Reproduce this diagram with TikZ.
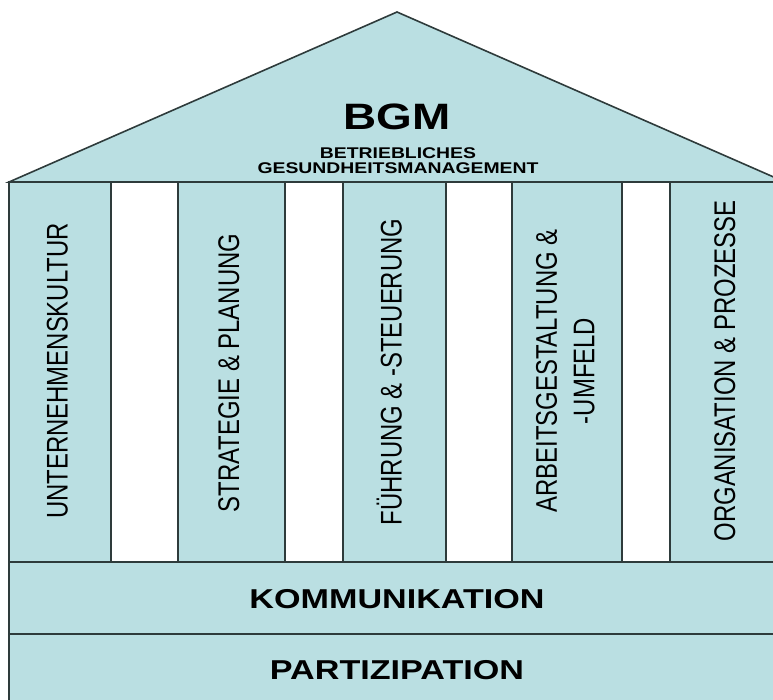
\documentclass[tikz,border=0pt]{standalone}
\usepackage{fontspec}
\setmainfont{Liberation Sans}
\definecolor{pillar}{HTML}{BADFE2}
\definecolor{edge}{HTML}{2E3B3B}
\newcommand\hlab[2]{\scalebox{1.25}[1]{\fontsize{#1}{#1}\selectfont\bfseries #2}}
\newcommand\vlab[2]{\scalebox{1.25}[1]{\rotatebox{90}{\fontsize{#1}{30}\selectfont\begin{tabular}{@{}c@{}}#2\end{tabular}}}}
\begin{document}
\begin{tikzpicture}[x=1pt,y=-1pt,
  part/.style={fill=pillar,draw=edge,line width=1.6pt},
  gap/.style={fill=white,draw=edge,line width=1.6pt},
  lab/.style={inner sep=0pt,text=black}]
\useasboundingbox (0,0) rectangle (773,699);
\clip (0,0) rectangle (773,699);
% roof
\draw[part,line join=miter] (9,182) -- (397,12) -- (785,182) -- cycle;
% pillars and gaps
\draw[part] (9,182) rectangle (111,562);
\draw[gap] (111,182) rectangle (178,562);
\draw[part] (178,182) rectangle (285,562);
\draw[gap] (285,182) rectangle (343,562);
\draw[part] (343,182) rectangle (446,562);
\draw[gap] (446,182) rectangle (512,562);
\draw[part] (512,182) rectangle (622,562);
\draw[gap] (622,182) rectangle (670,562);
\draw[part] (670,182) rectangle (785,562);
% foundation bands
\draw[part] (9,562) rectangle (785,634);
\draw[part] (9,634) rectangle (785,712);
% roof texts
\node[lab] (bgm) at (397,117) {\hlab{36.7}{BGM}};
\node[lab] (bet) at (398,153) {\hlab{15.5}{BETRIEBLICHES}};
\node[lab] (ges) at (398,168) {\hlab{15.5}{GESUNDHEITSMANAGEMENT}};
% pillar texts
\node[lab] (p1) at (60,371) {\vlab{23.9}{UNTERNEHMENSKULTUR}};
\node[lab] (p2) at (231.5,373) {\vlab{23.9}{STRATEGIE \& PLANUNG}};
\node[lab] (p3) at (394,372) {\vlab{23.9}{FÜHRUNG \& -STEUERUNG}};
\node[lab] (p4) at (568,371) {\vlab{23.9}{ARBEITSGESTALTUNG \&\\-UMFELD}};
\node[lab] (p5) at (727.5,371) {\vlab{23.9}{ORGANISATION \& PROZESSE}};
% bands
\node[lab] (kom) at (397,599) {\hlab{27.3}{KOMMUNIKATION}};
\node[lab] (par) at (397,670) {\hlab{27.3}{PARTIZIPATION}};
\end{tikzpicture}
\end{document}
